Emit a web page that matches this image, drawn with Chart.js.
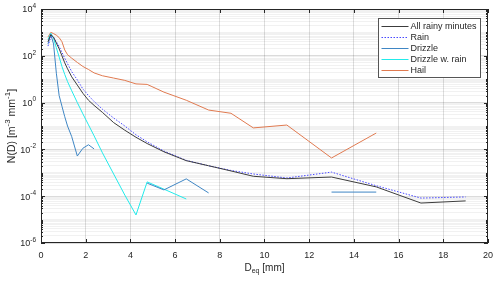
<!DOCTYPE html>
<html>
<head>
<meta charset="utf-8">
<script src="https://cdn.jsdelivr.net/npm/chart.js@4/dist/chart.umd.min.js"></script>
<style>
  html, body { margin: 0; padding: 0; background: #fff; }
  #wrap { width: 500px; height: 282px; }
</style>
</head>
<body>
<div id="wrap"><canvas id="psd" width="500" height="282"></canvas></div>
<script>
// Drop size distributions per weather type (Parsivel class centres)
const diameters = [0.312, 0.437, 0.562, 0.687, 0.812, 0.937, 1.062, 1.187, 1.375, 1.625,
  1.875, 2.125, 2.375, 2.75, 3.25, 3.75, 4.25, 4.75, 5.5, 6.5, 7.5, 8.5, 9.5, 11, 13, 15, 17, 19];

const allRainy = [400, 790, 630, 350, 200, 100, 50, 28, 12.6, 5.6,
  2.5, 1.26, 0.76, 0.38, 0.14, 0.066, 0.033, 0.0178, 0.0079, 0.0033, 0.002, 0.0012, 0.00071, 0.00056, 0.00066, 0.00025, 0.000051, 0.000063];

const rain = [260, 630, 600, 400, 250, 141, 79, 46, 21, 9.3,
  3.8, 2.0, 1.12, 0.52, 0.22, 0.1, 0.042, 0.021, 0.0085, 0.0034, 0.002, 0.00126, 0.00089, 0.0006, 0.00107, 0.00028, 0.000083, 0.000093];

const drizzle = [320, 830, 320, 18, 2.0, 0.7, 0.25, 0.1, 0.035, 0.0052,
  0.0112, 0.0158, 0.0105, null, null, null, null, 0.00036, 0.000186, 0.00055, 0.000138, null, null, null, 0.00015, 0.00015, null, null];

const drizzleRain = [500, 930, 560, 220, 89, 35, 16, 7.9, 3.2, 1.0,
  0.33, 0.112, 0.038, 0.0071, 0.00089, 0.000112, 0.0000158, 0.00041, 0.0002, 0.000076, null, null, null, null, null, null, null, null];

const hail = [630, 1000, 890, 760, 600, 400, 178, 112, 79, 52,
  35, 26, 18.6, 14, 11.2, 8.9, 6.3, 6.0, 2.8, 1.26, 0.48, 0.35, 0.083, 0.11, 0.0043, 0.05, null, null];

const seriesNames = ['All rainy minutes', 'Rain', 'Drizzle', 'Drizzle w. rain', 'Hail'];
const seriesColors = ['#3c3c3c', '#4848ff', '#3f86c4', '#22eaea', '#e07a50'];
const xTickValues = [0, 2, 4, 6, 8, 10, 12, 14, 16, 18, 20];
const yLabelExponents = [-6, -4, -2, 0, 2, 4];

const FONT = "'Liberation Sans', Arial, Helvetica, sans-serif";
const AXIS_COLOR = '#262626';

function toPoints(values) {
  return diameters.map((d, i) => ({ x: d, y: values[i] }));
}

// draw text made of normal / sup / sub pieces, centred on (0,0)
function richText(ctx, parts, size) {
  const small = Math.round(size * 0.72);
  let total = 0;
  parts.forEach(p => {
    ctx.font = (p.t ? small : size) + 'px ' + FONT;
    p.w = ctx.measureText(p.s).width;
    total += p.w;
  });
  let x = -total / 2;
  ctx.textBaseline = 'middle';
  ctx.textAlign = 'left';
  parts.forEach(p => {
    ctx.font = (p.t ? small : size) + 'px ' + FONT;
    let dy = 0;
    if (p.t === 'sup') dy = -size * 0.38;
    if (p.t === 'sub') dy = size * 0.32;
    ctx.fillText(p.s, x, dy);
    x += p.w;
  });
}

const decorPlugin = {
  id: 'decor',
  afterDraw(chart) {
    const ctx = chart.ctx;
    const area = chart.chartArea;
    const xs = chart.scales.x;
    const ys = chart.scales.y;
    ctx.save();
    ctx.strokeStyle = AXIS_COLOR;
    ctx.fillStyle = AXIS_COLOR;
    ctx.lineWidth = 1;

    // axes box
    ctx.strokeRect(Math.round(area.left) + 0.5, Math.round(area.top) + 0.5,
      Math.round(area.right - area.left) - 1, Math.round(area.bottom - area.top) - 1);

    // inner tick marks
    ctx.beginPath();
    xTickValues.forEach(v => {
      const px = Math.round(xs.getPixelForValue(v)) + 0.5;
      ctx.moveTo(px, area.bottom); ctx.lineTo(px, area.bottom - 4);
      ctx.moveTo(px, area.top); ctx.lineTo(px, area.top + 4);
    });
    ys.ticks.forEach(t => {
      const py = Math.round(ys.getPixelForValue(t.value)) + 0.5;
      const len = t.major ? 4 : 2;
      ctx.moveTo(area.left, py); ctx.lineTo(area.left + len, py);
      ctx.moveTo(area.right, py); ctx.lineTo(area.right - len, py);
    });
    ctx.stroke();

    // y tick labels 10^n
    yLabelExponents.forEach(e => {
      const py = ys.getPixelForValue(Math.pow(10, e));
      ctx.font = '9px ' + FONT;
      const wBase = ctx.measureText('10').width;
      ctx.font = '6.5px ' + FONT;
      const expText = String(e);
      const wExp = ctx.measureText(expText).width;
      const x0 = area.left - 5 - wBase - wExp;
      ctx.textAlign = 'left';
      ctx.textBaseline = 'middle';
      ctx.font = '9px ' + FONT;
      ctx.fillText('10', x0, py + 1);
      ctx.font = '6.5px ' + FONT;
      ctx.fillText(expText, x0 + wBase, py - 3);
    });

    // axis titles
    ctx.save();
    ctx.translate((area.left + area.right) / 2, 268);
    richText(ctx, [{ s: 'D' }, { s: 'eq', t: 'sub' }, { s: ' [mm]' }], 10);
    ctx.restore();

    ctx.save();
    ctx.translate(12, (area.top + area.bottom) / 2);
    ctx.rotate(-Math.PI / 2);
    richText(ctx, [{ s: 'N(D) [m' }, { s: '-3', t: 'sup' }, { s: ' mm' }, { s: '-1', t: 'sup' }, { s: ']' }], 10.5);
    ctx.restore();

    // legend box
    const sets = chart.data.datasets;
    ctx.font = '9px ' + FONT;
    let maxW = 0;
    sets.forEach(ds => { maxW = Math.max(maxW, ctx.measureText(ds.label).width); });
    const boxW = Math.round(32 + maxW + 4);
    const rowH = 11;
    const boxH = sets.length * rowH + 4;
    const bx = Math.round(area.right - 8 - boxW) + 0.5;
    const by = Math.round(area.top + 9) + 0.5;
    ctx.fillStyle = '#fff';
    ctx.fillRect(bx, by, boxW, boxH);
    ctx.strokeStyle = '#555';
    ctx.strokeRect(bx, by, boxW, boxH);
    sets.forEach((ds, i) => {
      const ry = Math.round(by + 7 + i * rowH) + 0.5;
      ctx.beginPath();
      ctx.strokeStyle = seriesColors[i];
      ctx.lineWidth = 1;
      ctx.setLineDash(ds.borderDash || []);
      ctx.moveTo(bx + 3, ry);
      ctx.lineTo(bx + 30, ry);
      ctx.stroke();
      ctx.setLineDash([]);
      ctx.fillStyle = AXIS_COLOR;
      ctx.textAlign = 'left';
      ctx.textBaseline = 'middle';
      ctx.fillText(ds.label, bx + 32, ry + 0.5);
    });
    ctx.restore();
  }
};

function lineSet(i, values, dash) {
  return {
    label: seriesNames[i],
    data: toPoints(values),
    borderColor: seriesColors[i],
    backgroundColor: seriesColors[i],
    borderWidth: 1,
    borderDash: dash || [],
    pointRadius: 0,
    tension: 0,
    spanGaps: false,
    fill: false
  };
}

const chart = new Chart(document.getElementById('psd').getContext('2d'), {
  type: 'line',
  data: {
    datasets: [
      lineSet(0, allRainy),
      lineSet(1, rain, [1.5, 1.5]),
      lineSet(2, drizzle),
      lineSet(3, drizzleRain),
      lineSet(4, hail)
    ]
  },
  options: {
    responsive: false,
    animation: false,
    layout: { padding: { left: 0, top: 9, right: 10, bottom: 0 } },
    plugins: {
      legend: { display: false },
      tooltip: { enabled: false }
    },
    scales: {
      x: {
        type: 'linear',
        min: 0,
        max: 20,
        afterBuildTicks: scale => { scale.ticks = xTickValues.map(v => ({ value: v })); },
        afterFit: scale => { scale.height = 39; },
        grid: { color: 'rgba(0,0,0,0.13)', drawTicks: false },
        border: { display: false },
        ticks: {
          color: AXIS_COLOR,
          font: { family: FONT, size: 9 },
          padding: 7,
          maxRotation: 0
        }
      },
      y: {
        type: 'logarithmic',
        min: 1e-6,
        max: 1e4,
        afterBuildTicks: scale => {
          const ticks = [];
          for (let e = -6; e <= 4; e++) {
            for (let k = 1; k <= 9; k++) {
              if (e === 4 && k > 1) break;
              ticks.push({ value: k * Math.pow(10, e), major: k === 1 && e % 2 === 0 });
            }
          }
          scale.ticks = ticks;
        },
        afterFit: scale => { scale.width = 41; },
        grid: {
          drawTicks: false,
          color: ctx => (ctx.tick && ctx.tick.major) ? 'rgba(0,0,0,0.14)' : 'rgba(0,0,0,0.055)'
        },
        border: { display: false },
        ticks: { display: false }
      }
    }
  },
  plugins: [decorPlugin]
});
</script>
</body>
</html>
